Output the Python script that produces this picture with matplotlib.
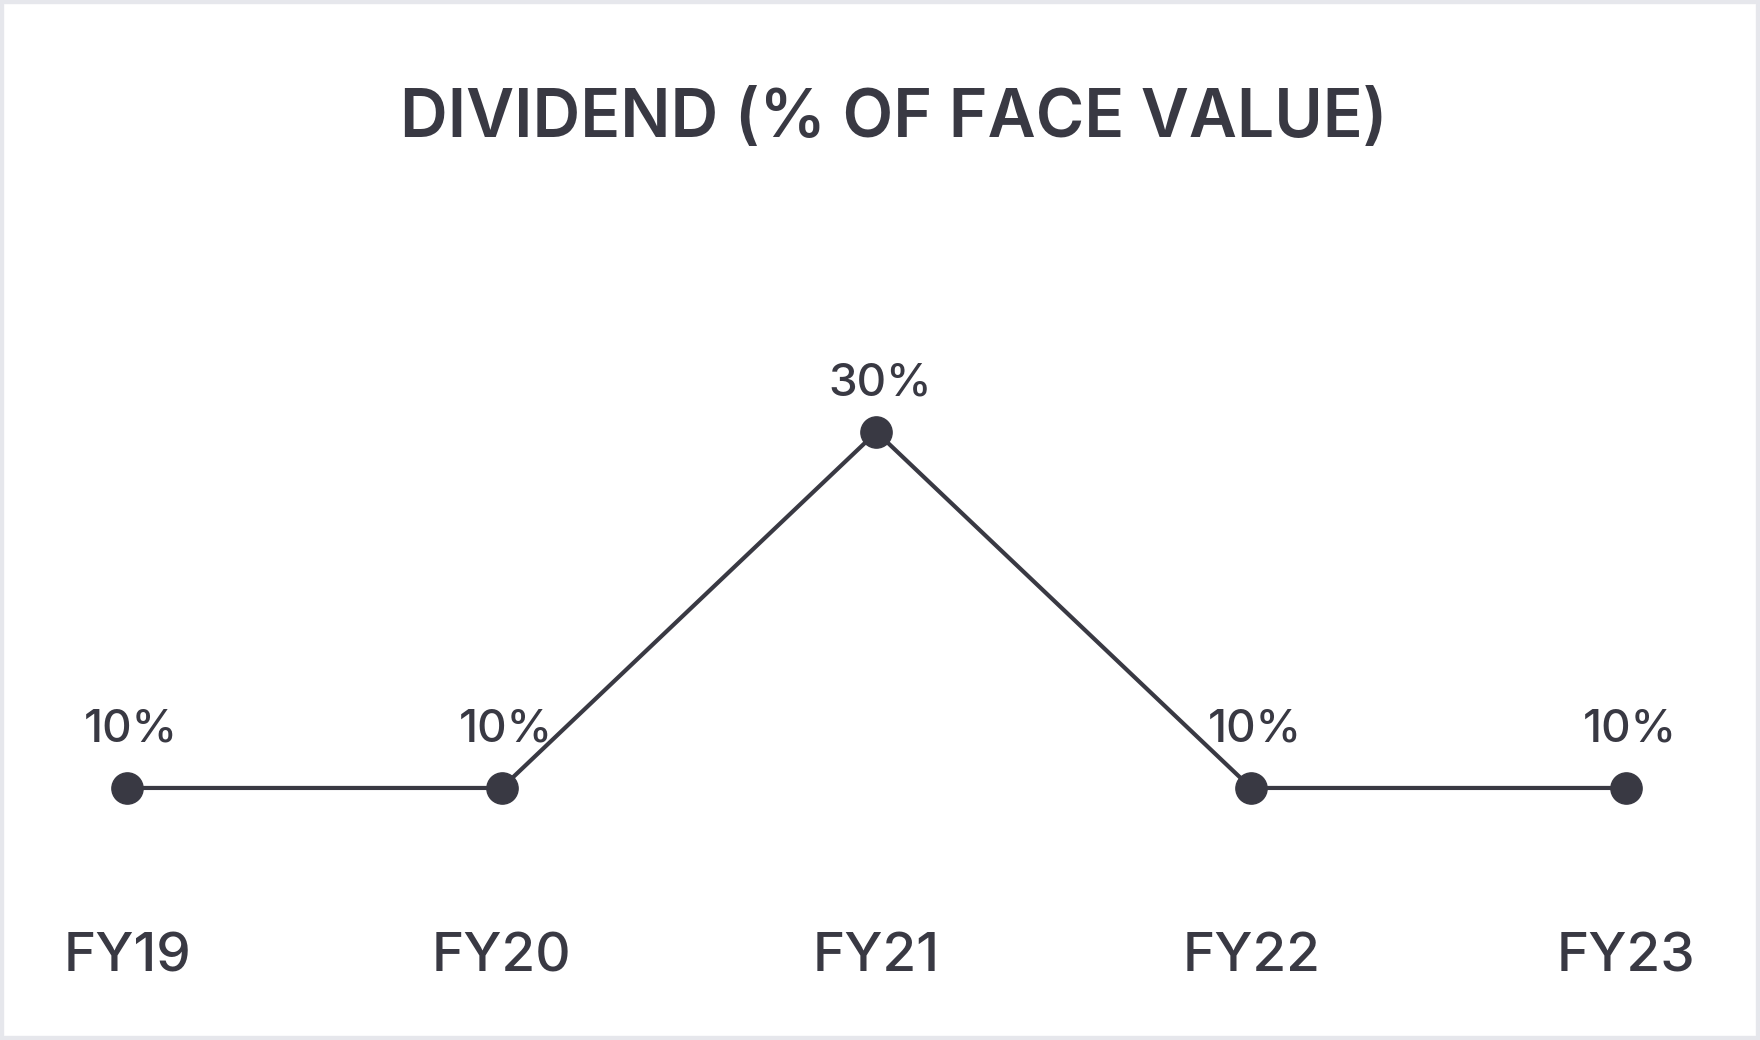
import matplotlib.pyplot as plt
from matplotlib.patches import Rectangle

years = ["FY19", "FY20", "FY21", "FY22", "FY23"]
dividend = [10, 10, 30, 10, 10]
labels = ["10%", "10%", "30%", "10%", "10%"]

ink = "#393943"
plt.rcParams["font.family"] = ["Inter", "DejaVu Sans"]

fig = plt.figure(figsize=(17.6, 10.4), dpi=100)
ax = fig.add_axes([0, 0, 1, 1])
ax.set_facecolor("white")

x = list(range(len(years)))
ax.plot(x, dividend, color=ink, lw=3.0, marker="o", markersize=22.5, zorder=3)

# pixel layout: FY19 at 127px, FY23 at 1626px; 10% at 788px, 30% at 432px from top
ax.set_xlim(-0.339, 4.358)
ax.set_ylim(-4.16, 54.27)
ax.axis("off")

for xi, v, lab in zip(x, dividend, labels):
    dy = 26.6 if v == max(dividend) else 33.8
    ax.annotate(lab, (xi, v), xytext=(3, dy), textcoords="offset points",
                ha="center", va="baseline", fontsize=33, color=ink,
                fontweight="medium")

for xi, yr in zip(x, years):
    ax.text(xi, 0.066, yr, transform=ax.get_xaxis_transform(),
            ha="center", va="baseline", fontsize=39.5, color=ink, fontweight="medium")

fig.text(0.508, 1 - 137 / 1040, "DIVIDEND (% OF FACE VALUE)", ha="center",
         va="baseline", fontsize=47.5, fontweight="semibold", color=ink)

fig.patches.append(Rectangle((0, 0), 1, 1, transform=fig.transFigure, fill=False,
                             edgecolor="#e6e7ec", lw=6, zorder=10))

fig.savefig("out.png", dpi=100, facecolor="white")
